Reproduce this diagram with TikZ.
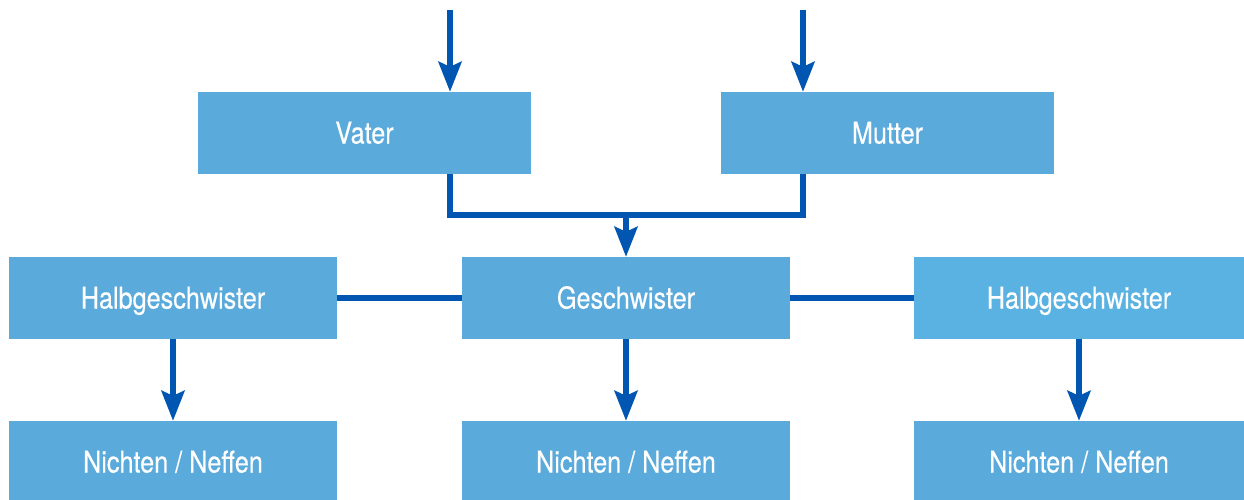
\documentclass[tikz,border=0pt]{standalone}
\usepackage{fontspec}
\setmainfont{TeX Gyre Heros}[FakeStretch=0.84,FakeBold=0.4]
\usetikzlibrary{arrows.meta}
\definecolor{boxblue}{HTML}{5AAADC}
\definecolor{boxblueB}{HTML}{5AB2E2}
\definecolor{linkblue}{HTML}{0056B0}
\tikzset{
  famnode/.style={rectangle, fill=boxblue, draw=none, inner sep=0pt,
    minimum width=328pt, minimum height=82pt, text=white,
    text height=27pt, text depth=6pt,
    font=\fontsize{30}{32}\selectfont},
  famline/.style={draw=linkblue, line width=5.5pt},
  famarrow/.style={famline, -{Stealth[length=30pt,width=23pt,inset=5pt]}},
}
\begin{document}
\begin{tikzpicture}[x=1pt,y=-1pt]
\useasboundingbox (0,0) rectangle (1244,500);
% top row
\node[famnode, minimum width=333pt] (vater) at (364.5,133) {Vater};
\node[famnode, minimum width=333pt] (mutter) at (887.5,133) {Mutter};
% middle row
\node[famnode] (hl) at (173,298) {Halbgeschwister};
\node[famnode] (gesch) at (626,298) {Geschwister};
\node[famnode, fill=boxblueB, minimum width=330pt] (hr) at (1079,298) {Halbgeschwister};
% bottom row
\node[famnode] (nl) at (173,462) {Nichten / Neffen};
\node[famnode] (nm) at (626,462) {Nichten / Neffen};
\node[famnode, minimum width=330pt] (nr) at (1079,462) {Nichten / Neffen};
% free ends / junction
\coordinate (tv) at (450,10);
\coordinate (tm) at (803,10);
\coordinate (j) at (626,215);
% connectors
\draw[famarrow] (tv) -- (tv |- vater.north);
\draw[famarrow] (tm) -- (tm |- mutter.north);
\draw[famline] (tv |- vater.south) |- (j) -| (tm |- mutter.south);
\draw[famarrow] (j) -- (gesch.north);
\draw[famline] (hl.east) -- (gesch.west);
\draw[famline] (gesch.east) -- (hr.west);
\draw[famarrow] (hl.south) -- (nl.north);
\draw[famarrow] (gesch.south) -- (nm.north);
\draw[famarrow] (hr.south) -- (nr.north);
\end{tikzpicture}
\end{document}
